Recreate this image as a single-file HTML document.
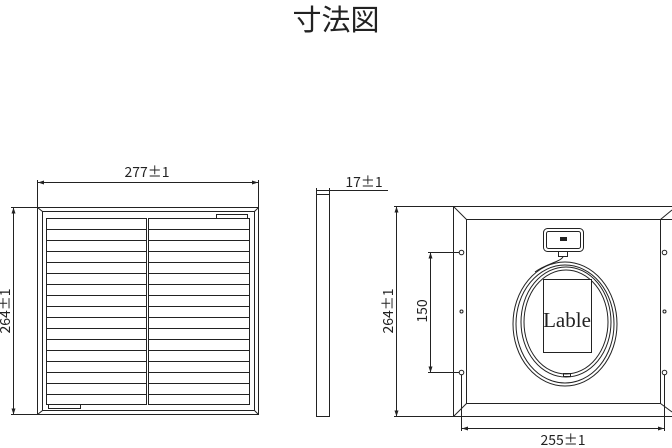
<!DOCTYPE html>
<html><head><meta charset="utf-8"><style>
html,body{margin:0;padding:0;background:#fff;width:672px;height:448px;overflow:hidden}
</style></head><body>
<svg width="672" height="448" viewBox="0 0 672 448" xmlns="http://www.w3.org/2000/svg" font-family="Liberation Sans, Noto Sans CJK JP, sans-serif">
<text x="336" y="30" font-size="29" text-anchor="middle" fill="#222" font-family="Noto Sans CJK JP, sans-serif">寸法図</text>
<g stroke="#222" fill="none" stroke-width="1">
<rect x="37.5" y="207.5" width="221" height="207"/>
<rect x="42.5" y="211.5" width="212" height="199"/>
<line x1="37.5" y1="207.5" x2="42.5" y2="211.5"/><line x1="258.5" y1="207.5" x2="254.5" y2="211.5"/>
<line x1="37.5" y1="414.5" x2="42.5" y2="410.5"/><line x1="258.5" y1="414.5" x2="254.5" y2="410.5"/>
<rect x="46.5" y="218.5" width="100" height="186"/>
<rect x="148.5" y="218.5" width="101" height="186"/>
<rect x="216.5" y="214.5" width="31" height="4"/>
<rect x="48.5" y="404.5" width="32" height="4"/>
<path id="rows" d="M46 229.5H146M46 240.5H146M46 251.5H146M46 262.5H146M46 273.5H146M46 284.5H146M46 295.5H146M46 306.5H146M46 317.5H146M46 328.5H146M46 339.5H146M46 350.5H146M46 361.5H146M46 372.5H146M46 383.5H146M46 394.5H146"/>
<use href="#rows" transform="translate(103 0)"/>
<line x1="37.5" y1="180" x2="37.5" y2="207"/><line x1="258.5" y1="180" x2="258.5" y2="207"/>
<line x1="38" y1="182.5" x2="258" y2="182.5"/>
<line x1="11" y1="207.5" x2="37" y2="207.5"/><line x1="11" y1="414.5" x2="37" y2="414.5"/>
<line x1="13.5" y1="208" x2="13.5" y2="414"/>
<rect x="316.5" y="194.5" width="13" height="222"/>
<line x1="316.5" y1="188" x2="316.5" y2="194"/><line x1="329.5" y1="188" x2="329.5" y2="194"/>
<line x1="316" y1="190.5" x2="388" y2="190.5"/>
<path d="M672 206.5H453.5V416.5H672"/>
<path d="M672 219.5H466.5V403.5H660.5V219.5"/>
<line x1="453.5" y1="206.5" x2="466.5" y2="219.5"/><line x1="453.5" y1="416.5" x2="466.5" y2="403.5"/>
<line x1="672" y1="210" x2="660.5" y2="219.5"/><line x1="672" y1="412" x2="660.5" y2="403.5"/>
<circle cx="461.5" cy="252.5" r="2.3"/><circle cx="461.5" cy="311.5" r="1.5"/><circle cx="461.5" cy="372.5" r="2.3"/>
<circle cx="664.5" cy="252.5" r="2.3"/><circle cx="664.5" cy="311.5" r="1.5"/><circle cx="664.5" cy="372.5" r="2.3"/>
<line x1="394" y1="206.5" x2="453" y2="206.5"/><line x1="394" y1="416.5" x2="453" y2="416.5"/>
<line x1="396.5" y1="207" x2="396.5" y2="416"/>
<line x1="428" y1="252.5" x2="459" y2="252.5"/><line x1="428" y1="372.5" x2="459" y2="372.5"/>
<line x1="430.5" y1="253" x2="430.5" y2="372"/>
<line x1="461.5" y1="375" x2="461.5" y2="431"/><line x1="664.5" y1="375" x2="664.5" y2="431"/>
<line x1="462" y1="428.5" x2="664" y2="428.5"/>
<rect x="543.5" y="228.5" width="40" height="23" rx="4"/>
<rect x="546.5" y="231.5" width="34" height="17" rx="2"/>
<rect x="558.5" y="251.5" width="9" height="5"/>
<path d="M563 257 C560 262 545 264 535 272"/>
<ellipse cx="565" cy="324" rx="52" ry="62"/>
<ellipse cx="565" cy="324" rx="49" ry="59"/>
<ellipse cx="566" cy="322" rx="45" ry="55"/>
<ellipse cx="566" cy="322" rx="42" ry="52"/>
<rect x="563.5" y="373.5" width="7" height="3"/>
<rect x="543.5" y="279.5" width="48" height="73" fill="#fff"/>
</g>
<rect x="560" y="237" width="7" height="4" fill="#222"/>
<g fill="#222" stroke="none">
<path d="M38 182.5l6-2v4z M258 182.5l-6-2v4z M13.5 207.5l-2 6h4z M13.5 414.5l-2-6h4z M396.5 206.5l-2 6h4z M396.5 416.5l-2-6h4z M430.5 252.5l-2 6h4z M430.5 372.5l-2-6h4z M462 428.5l6-2v4z M664 428.5l-6-2v4z"/>
</g>
<g font-size="14" fill="#222" font-family="Noto Sans CJK JP, sans-serif">
<text x="147" y="177" text-anchor="middle">277±1</text>
<text x="364" y="187" text-anchor="middle">17±1</text>
<text x="563" y="445" text-anchor="middle">255±1</text>
<text transform="translate(10 311) rotate(-90)" text-anchor="middle">264±1</text>
<text transform="translate(393 311) rotate(-90)" text-anchor="middle">264±1</text>
<text transform="translate(427 311) rotate(-90)" text-anchor="middle">150</text>
</g>
<text x="567" y="327" font-size="21" text-anchor="middle" fill="#222" font-family="Liberation Serif, serif">Lable</text>
</svg>
</body></html>
